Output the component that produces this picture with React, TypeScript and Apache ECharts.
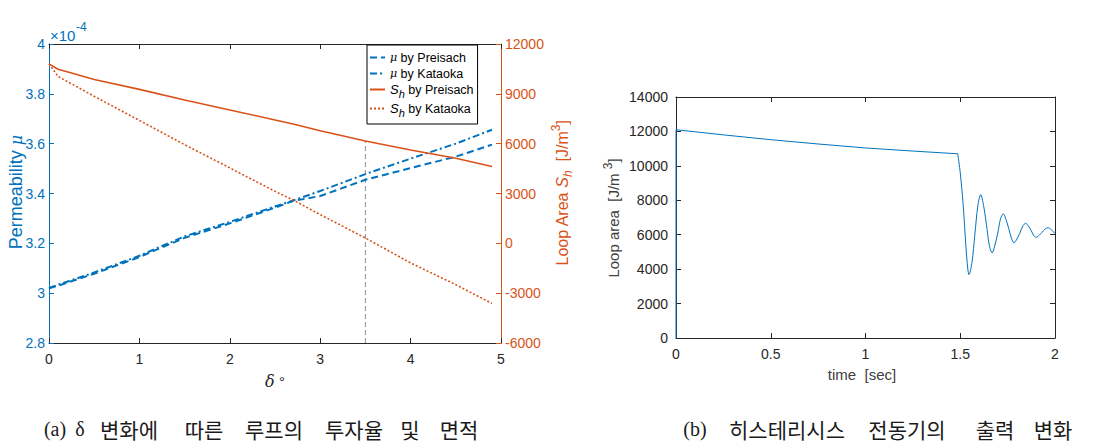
import React, { useEffect, useRef } from 'react';
import * as echarts from 'echarts';

// ---- left chart data (a) ----
const deltaDeg = [0, 0.1, 0.2, 0.5, 1, 1.5, 2, 2.5, 2.7, 3, 3.5, 4, 4.5, 4.9];
const muPreisach = [3.02, 3.03, 3.042, 3.078, 3.145, 3.222, 3.28, 3.343, 3.37, 3.39, 3.455, 3.502, 3.548, 3.596];
const muKataoka = [3.021, 3.034, 3.046, 3.083, 3.15, 3.228, 3.286, 3.348, 3.372, 3.41, 3.478, 3.54, 3.6, 3.656];
const shPreisach = [10800, 10480, 10330, 9860, 9270, 8630, 8030, 7430, 7180, 6780, 6160, 5620, 5120, 4620];
const shKataoka = [10800, 10050, 9750, 8850, 7400, 5940, 4540, 3130, 2610, 1730, 320, -1180, -2490, -3620];
const guideDelta = 3.5;
const guideTop = 6160;

// ---- right chart data (b) ----
const timeA = [0, 0, 0.25, 0.5, 0.75, 1.0, 1.25, 1.487];
const loopA = [0, 12100, 11800, 11520, 11270, 11040, 10860, 10700];
const timeB = [1.487, 1.5, 1.515, 1.53, 1.54, 1.546, 1.562, 1.577, 1.593, 1.608, 1.623, 1.638, 1.653, 1.668, 1.683, 1.698, 1.712, 1.727, 1.741, 1.756, 1.77, 1.784, 1.799, 1.815, 1.83, 1.845, 1.86, 1.874, 1.888, 1.901, 1.917, 1.932, 1.948, 1.963, 1.98, 2.0];
const loopB = [10700, 9600, 7800, 5300, 4000, 3680, 4400, 6000, 7700, 8330, 7700, 6600, 5400, 4940, 5400, 6100, 6900, 7220, 6900, 6350, 5800, 5520, 5750, 6100, 6500, 6660, 6500, 6250, 5950, 5850, 5970, 6150, 6330, 6410, 6300, 6060];

const captionAWords = ['(a)', 'δ', '변화에', '따른', '루프의', '투자율', '및', '면적'];
const captionBWords = ['(b)', '히스테리시스', '전동기의', '출력', '변화'];

const BLUE = '#0072BD';
const ORANGE = '#D95319';
const DARK = '#262626';
const FONT = 'Liberation Sans, Arial, sans-serif';
const KFONT = "'Noto Sans CJK KR', sans-serif";
const SFONT = "'Liberation Serif', serif";

const legendNames = ['mu-P', 'mu-K', 'sh-P', 'sh-K'];
const legendLabels: Record<string, string> = {
  'mu-P': '{m|μ}{t| by Preisach}',
  'mu-K': '{m|μ}{t| by Kataoka}',
  'sh-P': '{s|S}{sub|h}{t| by Preisach}',
  'sh-K': '{s|S}{sub|h}{t| by Kataoka}',
};

const zip = (xs: number[], ys: number[]) => xs.map((x, i) => [x, ys[i]]);
const plain = (v: number) => String(v);

export default function App() {
  const ref = useRef<HTMLDivElement>(null);
  useEffect(() => {
    document.body.style.margin = '0';
    const chart = echarts.init(ref.current!, undefined, { renderer: 'svg' });
    const tickIn = (color: string) => ({ show: true, inside: true, length: 5, lineStyle: { color, width: 1 } });
    const line = (color: string) => ({ show: true, onZero: false, lineStyle: { color, width: 1 } });
    const isLatin = (t: string) => /^[()a-zδ]+$/.test(t);
    const capText = (cx: number, t: string) => ({
      type: 'text', x: cx, y: 429,
      style: {
        text: t, fontSize: isLatin(t) ? 20 : 21, fontFamily: isLatin(t) ? SFONT : KFONT,
        fill: '#1a1a1a', align: 'center', verticalAlign: 'middle',
      },
    });
    const capACenters = [55, 80, 129, 204, 274, 354, 410, 459];
    const capBCenters = [695, 787, 907, 995, 1053];
    chart.setOption({
      animation: false,
      backgroundColor: '#fff',
      grid: [
        { left: 49, top: 44, width: 452, height: 299 },
        { left: 676, top: 97, width: 379, height: 241 },
      ],
      legend: {
        data: legendNames,
        orient: 'vertical',
        left: 367,
        top: 45,
        padding: [6, 4, 6, 2],
        itemGap: 3,
        itemWidth: 15,
        itemHeight: 8,
        borderColor: '#000',
        borderWidth: 1,
        backgroundColor: '#fff',
        itemStyle: { opacity: 0 },
        formatter: (n: string) => legendLabels[n],
        textStyle: {
          color: '#000',
          fontFamily: FONT,
          fontSize: 12,
          rich: {
            t: { fontSize: 12.5, fontFamily: FONT, color: '#000', lineHeight: 17 },
            m: { fontSize: 11, fontFamily: 'DejaVu Serif', fontStyle: 'italic', color: '#000', lineHeight: 17 },
            s: { fontSize: 13, fontFamily: FONT, fontStyle: 'italic', color: '#000', lineHeight: 19 },
            sub: { fontSize: 11, fontFamily: FONT, fontStyle: 'italic', color: '#000', lineHeight: 11, verticalAlign: 'bottom' },
          },
        },
      },
      xAxis: [
        {
          type: 'value', gridIndex: 0, min: 0, max: 5, interval: 1, position: 'bottom',
          axisLine: line(DARK), axisTick: tickIn(DARK), splitLine: { show: false },
          axisLabel: { color: DARK, fontSize: 14, fontFamily: FONT, margin: 9, formatter: plain },
        },
        {
          type: 'value', gridIndex: 0, min: 0, max: 5, interval: 1, position: 'top',
          axisLine: line(DARK), axisTick: tickIn(DARK), splitLine: { show: false },
          axisLabel: { show: false },
        },
        {
          type: 'value', gridIndex: 1, min: 0, max: 2, interval: 0.5, position: 'bottom',
          axisLine: line(DARK), axisTick: tickIn(DARK), splitLine: { show: false },
          axisLabel: { color: DARK, fontSize: 14, fontFamily: FONT, margin: 9, formatter: plain },
        },
        {
          type: 'value', gridIndex: 1, min: 0, max: 2, interval: 0.5, position: 'top',
          axisLine: line(DARK), axisTick: tickIn(DARK), splitLine: { show: false },
          axisLabel: { show: false },
        },
      ],
      yAxis: [
        {
          type: 'value', gridIndex: 0, min: 2.8, max: 4, interval: 0.2, position: 'left',
          axisLine: line(BLUE), axisTick: tickIn(BLUE), splitLine: { show: false },
          axisLabel: { color: BLUE, fontSize: 14, fontFamily: FONT, margin: 4, formatter: (v: number) => String(parseFloat(v.toFixed(1))) },
        },
        {
          type: 'value', gridIndex: 0, min: -6000, max: 12000, interval: 3000, position: 'right',
          axisLine: line(ORANGE), axisTick: tickIn(ORANGE), splitLine: { show: false },
          axisLabel: { color: ORANGE, fontSize: 14, fontFamily: FONT, margin: 4, formatter: plain },
        },
        {
          type: 'value', gridIndex: 1, min: 0, max: 14000, interval: 2000, position: 'left',
          axisLine: line(DARK), axisTick: tickIn(DARK), splitLine: { show: false },
          axisLabel: { color: DARK, fontSize: 14, fontFamily: FONT, margin: 8, formatter: plain },
        },
        {
          type: 'value', gridIndex: 1, min: 0, max: 14000, interval: 2000, position: 'right',
          axisLine: line(DARK), axisTick: tickIn(DARK), splitLine: { show: false },
          axisLabel: { show: false },
        },
      ],
      series: [
        {
          name: 'guide', type: 'line', xAxisIndex: 0, yAxisIndex: 1, symbol: 'none', silent: true,
          data: [[guideDelta, -6000], [guideDelta, guideTop]],
          lineStyle: { color: '#8c8c8c', width: 1, type: [5, 3] },
        },
        {
          name: 'mu-P', type: 'line', xAxisIndex: 0, yAxisIndex: 0, symbol: 'none',
          data: zip(deltaDeg, muPreisach), itemStyle: { color: BLUE },
          lineStyle: { color: BLUE, width: 2, type: [7, 4] },
        },
        {
          name: 'mu-K', type: 'line', xAxisIndex: 0, yAxisIndex: 0, symbol: 'none',
          data: zip(deltaDeg, muKataoka), itemStyle: { color: BLUE },
          lineStyle: { color: BLUE, width: 2, type: [7, 3, 2, 3] },
        },
        {
          name: 'sh-P', type: 'line', xAxisIndex: 0, yAxisIndex: 1, symbol: 'none',
          data: zip(deltaDeg, shPreisach), itemStyle: { color: ORANGE },
          lineStyle: { color: ORANGE, width: 1.6, type: 'solid' },
        },
        {
          name: 'sh-K', type: 'line', xAxisIndex: 0, yAxisIndex: 1, symbol: 'none',
          data: zip(deltaDeg, shKataoka), itemStyle: { color: ORANGE },
          lineStyle: { color: ORANGE, width: 1.6, type: [2, 2] },
        },
        {
          name: 'loopA', type: 'line', xAxisIndex: 2, yAxisIndex: 2, symbol: 'none',
          data: zip(timeA, loopA), lineStyle: { color: BLUE, width: 1 },
        },
        {
          name: 'loopB', type: 'line', xAxisIndex: 2, yAxisIndex: 2, symbol: 'none', smooth: 0.3,
          data: zip(timeB, loopB), lineStyle: { color: BLUE, width: 1 },
        },
      ],
      graphic: [
        // ×10^-4
        { type: 'text', x: 50, y: 35, style: { text: '×10', font: `15px ${FONT}`, fill: BLUE, align: 'left', verticalAlign: 'middle' } },
        { type: 'text', x: 76, y: 27, style: { text: '-4', font: `12px ${FONT}`, fill: BLUE, align: 'left', verticalAlign: 'middle' } },
        // left y title
        {
          type: 'text', x: 16, y: 192, rotation: Math.PI / 2,
          style: {
            text: '{a|Permeability }{b|μ}', align: 'center', verticalAlign: 'middle',
            rich: {
              a: { fontSize: 18, fontFamily: FONT, fill: BLUE, lineHeight: 22 },
              b: { fontSize: 16, fontFamily: 'DejaVu Serif', fontStyle: 'italic', fill: BLUE, lineHeight: 22 },
            },
          },
        },
        // right y title (left chart)
        {
          type: 'text', x: 562, y: 193, rotation: Math.PI / 2,
          style: {
            text: '{a|Loop Area }{s|S}{sub|h}{a|  [J/m}{sup|3}{a|]}', align: 'center', verticalAlign: 'middle',
            rich: {
              a: { fontSize: 16, fontFamily: FONT, fill: ORANGE, lineHeight: 24 },
              s: { fontSize: 16, fontFamily: FONT, fontStyle: 'italic', fill: ORANGE, lineHeight: 24 },
              sub: { fontSize: 12, fontFamily: FONT, fontStyle: 'italic', fill: ORANGE, lineHeight: 12, verticalAlign: 'bottom' },
              sup: { fontSize: 12, fontFamily: FONT, fill: ORANGE, lineHeight: 12, verticalAlign: 'top' },
            },
          },
        },
        // x title left
        {
          type: 'text', x: 275, y: 381,
          style: {
            text: '{d|δ}{a| °}', align: 'center', verticalAlign: 'middle',
            rich: {
              d: { fontSize: 16, fontFamily: 'DejaVu Serif', fontStyle: 'italic', fill: DARK },
              a: { fontSize: 15, fontFamily: FONT, fill: DARK },
            },
          },
        },
        // right chart titles
        {
          type: 'text', x: 613, y: 218, rotation: Math.PI / 2,
          style: {
            text: '{a|Loop area  [J/m }{sup|3}{a|]}', align: 'center', verticalAlign: 'middle',
            rich: {
              a: { fontSize: 15, fontFamily: FONT, fill: '#404040', lineHeight: 22 },
              sup: { fontSize: 12, fontFamily: FONT, fill: '#404040', lineHeight: 12, verticalAlign: 'top' },
            },
          },
        },
        {
          type: 'text', x: 862, y: 374,
          style: { text: 'time  [sec]', font: `15px ${FONT}`, fill: '#404040', align: 'center', verticalAlign: 'middle' },
        },
        // captions
        ...captionAWords.map((w, i) => capText(capACenters[i], w)),
        ...captionBWords.map((w, i) => capText(capBCenters[i], w)),
      ],
    });
    return () => chart.dispose();
  }, []);
  return <div ref={ref} style={{ width: 1103, height: 445 }} />;
}
